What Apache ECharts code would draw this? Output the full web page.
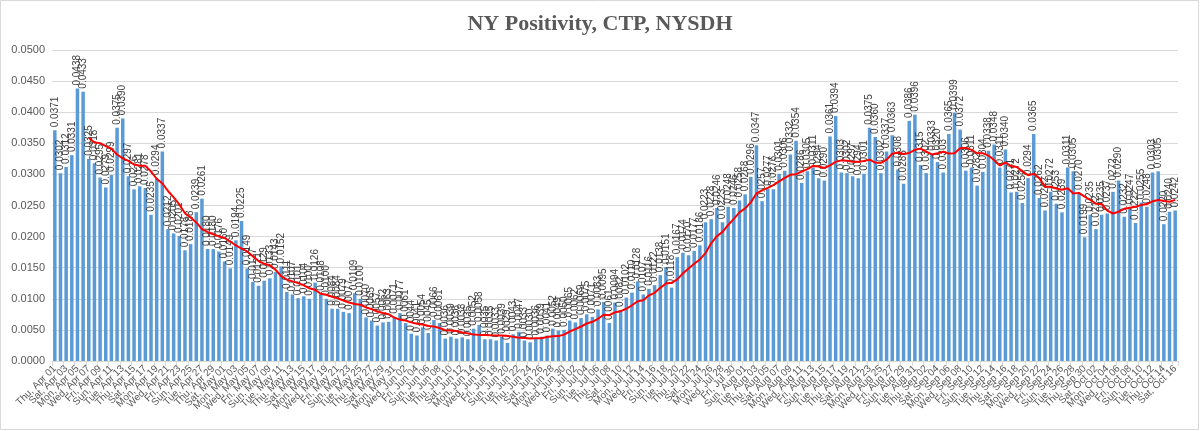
<!DOCTYPE html>
<html>
<head>
<meta charset="utf-8">
<script src="https://cdn.jsdelivr.net/npm/echarts@6/dist/echarts.min.js"></script>
<style>
html,body{margin:0;padding:0;background:#fff;}
#c{width:1200px;height:431px;}
</style>
</head>
<body>
<div id="c"></div>
<script>
// Daily positivity, Thu Apr 01 2021 .. Sat Oct 16 2021
const startDate = [2021, 3, 1]; // year, monthIndex, day
const dayCount = 199;
const positivity = [
0.0371,0.0302,0.0312,0.0331,0.0438,0.0433,0.0325,0.0318,0.0295,0.0279,
0.0299,0.0375,0.0390,0.0297,0.0276,0.0281,0.0278,0.0235,0.0294,0.0337,
0.0212,0.0205,0.0201,0.0178,0.0188,0.0239,0.0261,0.0180,0.0180,0.0176,
0.0160,0.0149,0.0194,0.0225,0.0149,0.0127,0.0121,0.0129,0.0133,0.0143,
0.0152,0.0111,0.0107,0.0101,0.0104,0.0100,0.0126,0.0108,0.0100,0.0084,
0.0084,0.0079,0.0077,0.0109,0.0100,0.0070,0.0065,0.0057,0.0062,0.0063,
0.0071,0.0077,0.0061,0.0044,0.0041,0.0054,0.0045,0.0066,0.0061,0.0036,
0.0039,0.0036,0.0038,0.0035,0.0052,0.0058,0.0035,0.0035,0.0033,0.0039,
0.0029,0.0043,0.0047,0.0033,0.0030,0.0036,0.0039,0.0041,0.0052,0.0049,
0.0050,0.0065,0.0062,0.0069,0.0075,0.0071,0.0083,0.0095,0.0061,0.0094,
0.0082,0.0102,0.0110,0.0128,0.0107,0.0116,0.0122,0.0138,0.0151,0.0118,
0.0167,0.0174,0.0170,0.0177,0.0186,0.0223,0.0228,0.0246,0.0223,0.0248,
0.0246,0.0258,0.0268,0.0296,0.0347,0.0257,0.0277,0.0276,0.0301,0.0306,
0.0332,0.0354,0.0286,0.0305,0.0311,0.0294,0.0290,0.0361,0.0394,0.0303,
0.0302,0.0297,0.0294,0.0301,0.0375,0.0360,0.0302,0.0337,0.0363,0.0308,
0.0285,0.0386,0.0396,0.0315,0.0302,0.0333,0.0320,0.0303,0.0365,0.0399,
0.0372,0.0306,0.0311,0.0282,0.0304,0.0338,0.0348,0.0311,0.0340,0.0271,
0.0272,0.0254,0.0294,0.0365,0.0262,0.0242,0.0272,0.0253,0.0239,0.0311,
0.0305,0.0270,0.0199,0.0235,0.0212,0.0235,0.0237,0.0272,0.0290,0.0232,
0.0247,0.0222,0.0255,0.0248,0.0303,0.0305,0.0220,0.0240,0.0242
];
const maWindow = 7;
const yTicks = {min: 0, max: 0.05, interval: 0.005};
const titleText = 'NY Positivity, CTP, NYSDH';

const dayNames = ['Sun','Mon','Tue','Wed','Thu','Fri','Sat'];
const monNames = ['Jan','Feb','Mar','Apr','May','Jun','Jul','Aug','Sep','Oct','Nov','Dec'];
const categories = [];
for (let i = 0; i < dayCount; i++) {
  const d = new Date(Date.UTC(startDate[0], startDate[1], startDate[2] + i));
  categories.push(dayNames[d.getUTCDay()] + ', ' + monNames[d.getUTCMonth()] + ' ' + String(d.getUTCDate()).padStart(2,'0'));
}
// 7-day trailing moving average (trendline)
const movingAvg = positivity.map((v, i) => {
  if (i < maWindow - 1) return null;
  let s = 0;
  for (let k = i - maWindow + 1; k <= i; k++) s += positivity[k];
  return s / maWindow;
});

const labelStyle = {rotate: 45, fontSize: 10, color: '#595959', fontFamily: 'Liberation Sans', margin: 6};
const lastIdx = dayCount - 1;

const chart = echarts.init(document.getElementById('c'), null, {renderer: 'canvas'});
chart.setOption({
  animation: false,
  backgroundColor: '#fff',
  title: {
    text: titleText, left: 'center', top: 8,
    textStyle: {fontFamily: 'Liberation Serif', fontWeight: 'bold', fontSize: 22, color: '#595959'}
  },
  graphic: [{
    type: 'rect', shape: {x: 0.5, y: 0.5, width: 1198, height: 429},
    style: {fill: 'none', stroke: '#d9d9d9', lineWidth: 1}, silent: true, z: 100
  }],
  grid: {left: 52, right: 22, top: 50, bottom: 70},
  xAxis: [{
    type: 'category', data: categories, boundaryGap: true,
    axisLine: {lineStyle: {color: '#d9d9d9'}},
    axisTick: {show: true, interval: 1, length: 5, lineStyle: {color: '#d9d9d9'}},
    axisLabel: Object.assign({interval: 1, showMinLabel: true, showMaxLabel: true, hideOverlap: false}, labelStyle)
  }, {
    // companion axis: labels that the main axis drops next to the first/last label
    type: 'category', data: categories, boundaryGap: true, position: 'bottom',
    axisLine: {show: false}, axisTick: {show: false}, splitLine: {show: false},
    axisLabel: Object.assign({interval: (i) => i === 2 || i === lastIdx - 2, hideOverlap: false}, labelStyle)
  }],
  yAxis: {
    type: 'value', min: yTicks.min, max: yTicks.max, interval: yTicks.interval,
    axisLine: {show: false}, axisTick: {show: false},
    splitLine: {lineStyle: {color: '#d9d9d9'}},
    axisLabel: {formatter: v => v.toFixed(4), fontSize: 11, color: '#595959', fontFamily: 'Liberation Sans', margin: 7}
  },
  series: [{
    type: 'bar', data: positivity, barCategoryGap: '38%', xAxisIndex: 0,
    itemStyle: {color: '#5b9bd5'},
    label: {
      show: true, position: 'top', rotate: 90, align: 'left', verticalAlign: 'middle', distance: 3,
      formatter: p => p.value.toFixed(4), fontSize: 10, color: '#404040', fontFamily: 'Liberation Sans'
    },
    labelLayout: {hideOverlap: false}
  }, {
    type: 'line', data: movingAvg, showSymbol: false, symbol: 'none', connectNulls: false, xAxisIndex: 0,
    lineStyle: {color: '#ff0000', width: 2}, z: 10
  }]
});
</script>
</body>
</html>
